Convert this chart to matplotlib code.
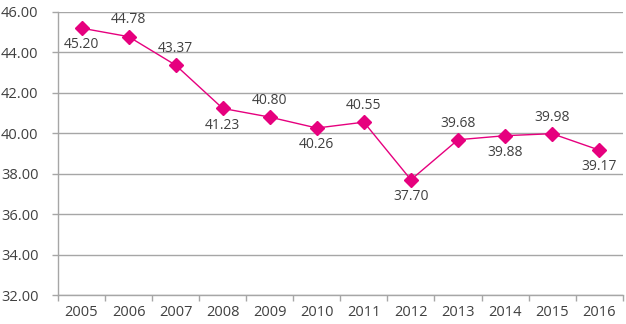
import matplotlib
matplotlib.use("Agg")
import matplotlib.pyplot as plt
import numpy as np

years = ["2005", "2006", "2007", "2008", "2009", "2010", "2011", "2012", "2013", "2014", "2015", "2016"]
values = [45.20, 44.78, 43.37, 41.23, 40.80, 40.26, 40.55, 37.70, 39.68, 39.88, 39.98, 39.17]
label_pos = ["below", "above", "above", "below", "above", "below", "above", "below", "above", "below", "above", "below"]

plt.rcParams['font.family'] = ['Open Sans', 'DejaVu Sans']

fig = plt.figure(figsize=(6.26, 3.24), dpi=100)
ax = fig.add_axes([0.0927, 0.0895, 0.902, 0.8735])

x = np.arange(len(years))
color = "#E6007E"
grid_c = "#a6a6a6"
text_c = "#404040"

ax.set_ylim(32, 46)
ax.set_xlim(-0.5, len(years) - 0.5)
ax.set_yticks(np.arange(32, 46.1, 2))
ax.set_yticklabels([f"{v:.2f}" for v in np.arange(32, 46.1, 2)])
ax.yaxis.grid(True, color=grid_c, linewidth=1.0)
ax.set_axisbelow(True)

ax.plot(x, values, color=color, linewidth=1.0, marker="D", markersize=7, zorder=3)

for xi, v, pos in zip(x, values, label_pos):
    dy = 12 if pos == "above" else -12
    ax.annotate(f"{v:.2f}", (xi, v), xytext=(0, dy), textcoords="offset points",
                ha="center", va="center", fontsize=10, color=text_c)

# category ticks at boundaries
ax.set_xticks(np.arange(-0.5, len(years), 1.0))
ax.set_xticklabels([])
ax.set_xticks(x, minor=True)
ax.set_xticklabels(years, minor=True)
ax.tick_params(axis="x", which="minor", length=0, pad=7, labelsize=10.5, labelcolor=text_c)
ax.tick_params(axis="x", which="major", length=4, color=grid_c, width=1)
ax.tick_params(axis="y", length=4, color=grid_c, width=1, labelsize=10.5, labelcolor=text_c, pad=10)

for s in ["top", "right"]:
    ax.spines[s].set_visible(False)
for s in ["left", "bottom"]:
    ax.spines[s].set_color(grid_c)
    ax.spines[s].set_linewidth(1.0)

fig.savefig("out.png", dpi=100)
